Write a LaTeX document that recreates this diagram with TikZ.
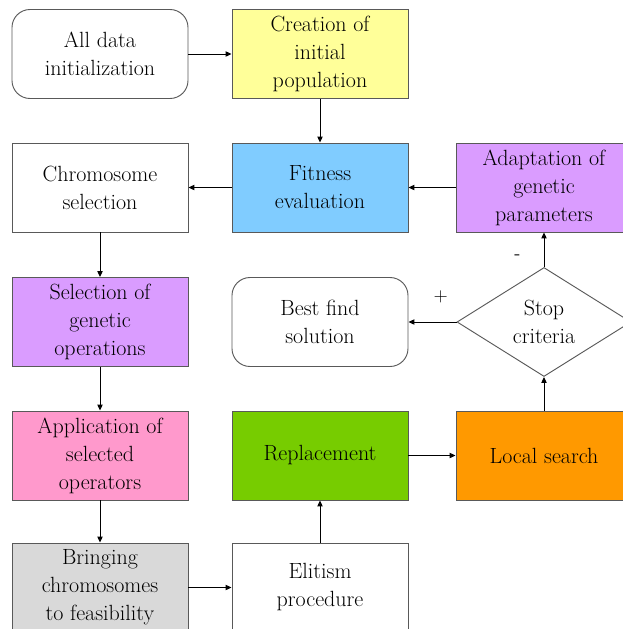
\documentclass[tikz,border=0pt]{standalone}
\usepackage{tikz}
\usetikzlibrary{shapes.geometric}
\usetikzlibrary{arrows.meta}
\definecolor{edgegray}{HTML}{595959}
\definecolor{popyellow}{HTML}{FFFF99}
\definecolor{fitblue}{HTML}{80CCFF}
\definecolor{genpurple}{HTML}{DA9CFF}
\definecolor{oppink}{HTML}{FF99CC}
\definecolor{replgreen}{HTML}{77CC00}
\definecolor{searchorange}{HTML}{FF9900}
\definecolor{feasgray}{HTML}{D9D9D9}
\tikzset{Box/.style={draw=edgegray, line width=0.7pt, minimum width=132pt, minimum height=66.75pt,
                     align=center, inner sep=2pt, font=\fontsize{16.5pt}{21pt}\selectfont},
         RBox/.style={Box, rounded corners=13.5pt},
         Test/.style={Box, shape=diamond, minimum width=130.5pt, minimum height=81.75pt, inner sep=0pt},
         Flow/.style={-{Triangle[length=4.5pt,width=4pt]}, line width=0.75pt},
         Sign/.style={font=\sffamily\fontsize{14pt}{16pt}\selectfont}}

\begin{document}
\begin{tikzpicture}[x=0.75pt, y=-0.75pt]
  \useasboundingbox (0,0) rectangle (623,629);
  % left column
  \node[RBox] (Init) at (100,54) {All data\\initialization};
  \node[Box] (Chrom) at (100,187.5) {Chromosome\\selection};
  \node[Box, fill=genpurple] (SelOp) at (100,322) {Selection of\\genetic\\operations};
  \node[Box, fill=oppink] (Apply) at (100,455.5) {Application of\\selected\\operators};
  \node[Box, fill=feasgray] (Feas) at (100,587.5) {Bringing\\chromosomes\\to feasibility};
  % middle column
  \node[Box, fill=popyellow] (Create) at (320,54) {Creation of\\initial\\population};
  \node[Box, fill=fitblue] (Fit) at (320,187.5) {Fitness\\evaluation};
  \node[RBox] (Best) at (320,322) {Best find\\solution};
  \node[Box, fill=replgreen] (Repl) at (320,455.5) {Replacement};
  \node[Box] (Elit) at (320,587.5) {Elitism\\procedure};
  % right column
  \node[Box, fill=genpurple] (Adapt) at (544,187.5) {Adaptation of\\genetic\\parameters};
  \node[Test] (Stop) at (544,322) {Stop\\criteria};
  \node[Box, fill=searchorange] (Local) at (544,455.5) {Local search};
  \path[Flow]
    (Init) edge (Create)
    (Create) edge (Fit)
    (Fit) edge (Chrom)
    (Adapt) edge (Fit)
    (Chrom) edge (SelOp)
    (SelOp) edge (Apply)
    (Apply) edge (Feas)
    (Feas) edge (Elit)
    (Elit) edge (Repl)
    (Repl) edge (Local)
    (Local) edge (Stop)
    (Stop) edge node[Sign, pos=0.33, yshift=19pt] {+} (Best)
    (Stop) edge node[Sign, pos=0.28, xshift=-20pt] {-} (Adapt);
\end{tikzpicture}
\end{document}
